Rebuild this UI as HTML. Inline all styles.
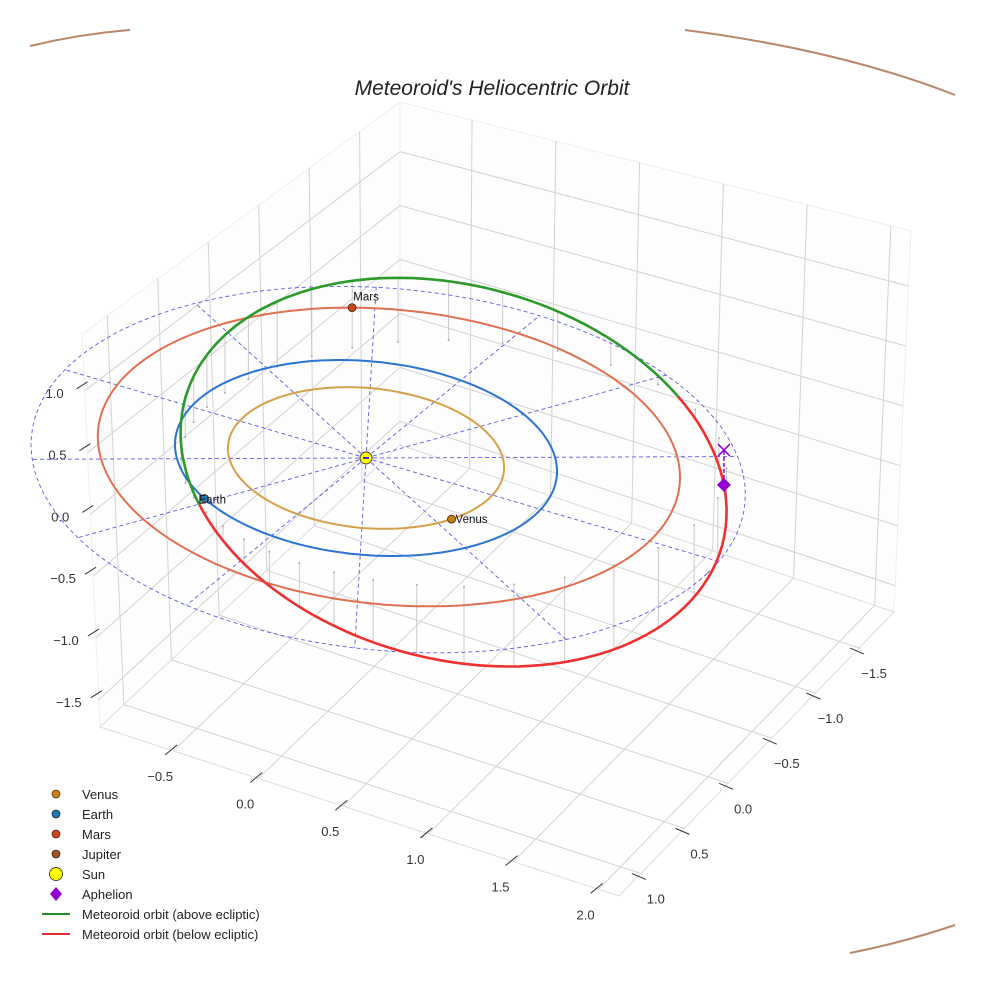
<!DOCTYPE html>
<html><head><meta charset="utf-8"><style>
html,body{margin:0;padding:0;background:#fff;}
svg{display:block;font-family:"Liberation Sans",sans-serif;}
</style></head><body>
<svg id="chart" width="984" height="984" viewBox="0 0 984 984" xmlns="http://www.w3.org/2000/svg">
<rect width="984" height="984" fill="#fff"/>
<g fill="none" stroke="#b9876a" stroke-width="2">
<path d="M30,46 Q80,34 130,30"/>
<path d="M685,30 Q840,50 955,95"/>
<path d="M850,953 Q905,942 955,925"/>
</g>
<g id="panes"></g>
<g id="marks"></g>
<g id="ticks"></g>
<text x="492" y="95" text-anchor="middle" font-size="21" font-style="italic" fill="#222">Meteoroid's Heliocentric Orbit</text>
<g id="legend" font-size="13" fill="#222">
<g><circle cx="56" cy="794" r="4" fill="#c87f1a" stroke="#5a3a10" stroke-width="0.8"/><text x="82" y="799">Venus</text></g>
<g><circle cx="56" cy="814" r="4" fill="#1f77b4" stroke="#123" stroke-width="0.8"/><text x="82" y="819">Earth</text></g>
<g><circle cx="56" cy="834" r="4" fill="#c8441a" stroke="#521" stroke-width="0.8"/><text x="82" y="839">Mars</text></g>
<g><circle cx="56" cy="854" r="4" fill="#a0522d" stroke="#421" stroke-width="0.8"/><text x="82" y="859">Jupiter</text></g>
<g><circle cx="56" cy="874" r="6.5" fill="#ffff00" stroke="#222" stroke-width="0.8"/><text x="82" y="879">Sun</text></g>
<g><path d="M56,887 L62,894 L56,901 L50,894 Z" fill="#9400d3"/><text x="82" y="899">Aphelion</text></g>
<g><line x1="42" y1="914" x2="70" y2="914" stroke="#228b22" stroke-width="2"/><text x="82" y="919">Meteoroid orbit (above ecliptic)</text></g>
<g><line x1="42" y1="934" x2="70" y2="934" stroke="#e8282a" stroke-width="2"/><text x="82" y="939">Meteoroid orbit (below ecliptic)</text></g>
</g>
</svg>
<script>
// ---- data ----
const xTicks = [-0.5, 0.0, 0.5, 1.0, 1.5, 2.0];
const yTicks = [1.0, 0.5, 0.0, -0.5, -1.0, -1.5];
const zTicks = [-1.5, -1.0, -0.5, 0.0, 0.5, 1.0];
const planetNames = ["Venus", "Earth", "Mars"];
const planetRadii = [0.723, 1.0, 1.524];
const planetAngles = [-25, -121, 124];
const planetColors = ["#d4a04a", "#2b74d2", "#e07050"];
const planetMarkerColors = ["#c87f1a", "#1f77b4", "#c8441a"];
const marsCenter = [0.095, 0.078];
const spokeAngles = [115, 148, 183, 215, 241, 267, 295, 328, 3, 35, 61, 87];
const refRadius = [1.87];
const refCenter = [0.15, -0.04];
const orbitElements = [1.47, 0.335, 27, 57, 161]; // a, e, inclination, node angle, nu offset
const orbitOffset = [0.033, -0.10];

// ---- axis ranges ----
const xRange = [-0.93, 2.12], yRange = [1.25, -1.9], zRange = [-1.72, 1.46];
const SVGNS = "http://www.w3.org/2000/svg";
function el(tag, attrs, parent) {
  const e = document.createElementNS(SVGNS, tag);
  for (const k in attrs) e.setAttribute(k, attrs[k]);
  parent.appendChild(e);
  return e;
}
const panes = document.getElementById('panes');
const marks = document.getElementById('marks');
const ticksG = document.getElementById('ticks');
const lerp = (a, b, t) => [a[0] + (b[0] - a[0]) * t, a[1] + (b[1] - a[1]) * t];
const tx = v => (v - xRange[0]) / (xRange[1] - xRange[0]);
const ty = v => (v - yRange[0]) / (yRange[1] - yRange[0]);
const tz = v => (v - zRange[0]) / (zRange[1] - zRange[0]);
const L = [100, 727], F = [619, 896], R = [894, 612], B = [400, 445];
const TL = [82, 334], TB = [400, 102], TR = [911, 231];

let p = el('polygon', {points: [L, B, TB, TL].map(q => q.join(',')).join(' '), fill: '#fdfdfd', stroke: '#eee'}, panes);


p = el('polygon', {points: [B, R, TR, TB].map(q => q.join(',')).join(' '), fill: '#fdfdfd', stroke: '#eee'}, panes);


p = el('polygon', {points: [L, F, R, B].map(q => q.join(',')).join(' '), fill: '#fefefe', stroke: '#ddd'}, panes);


function gl(a, b, name) {
  const l = el('line', {x1: a[0], y1: a[1], x2: b[0], y2: b[1], stroke: '#d2d2d2', 'stroke-width': 1}, panes);
  
  
}
yTicks.forEach(v => { const s = ty(v);
  gl(lerp(L, B, s), lerp(TL, TB, s), 'left-wall-gridline');
  gl(lerp(L, B, s), lerp(F, R, s), 'floor-gridline-y'); });
xTicks.forEach(v => { const t = tx(v);
  gl(lerp(B, R, t), lerp(TB, TR, t), 'right-wall-gridline');
  gl(lerp(L, F, t), lerp(B, R, t), 'floor-gridline-x'); });
zTicks.forEach(v => { const u = tz(v);
  gl(lerp(L, TL, u), lerp(B, TB, u), 'left-wall-gridline-z');
  gl(lerp(B, TB, u), lerp(R, TR, u), 'right-wall-gridline-z'); });

function tick(a, b, lp, txt, name) {
  const l = el('line', {x1: a[0], y1: a[1], x2: b[0], y2: b[1], stroke: '#333', 'stroke-width': 1}, ticksG);
  
  
  const t = el('text', {x: lp[0], y: lp[1], 'text-anchor': 'middle', 'font-size': 13, fill: '#333'}, ticksG);
  t.textContent = txt.replace('-', '\u2212');
  
  
}
xTicks.forEach(v => { const q = lerp(L, F, tx(v));
  tick([q[0] - 8, q[1] + 4], [q[0] + 4, q[1] - 6], [q[0] - 13, q[1] + 30], v.toFixed(1), 'x-tick'); });
yTicks.forEach(v => { const q = lerp(F, R, ty(v));
  tick([q[0] - 9, q[1]], [q[0] + 5, q[1] + 6], [q[0] + 15, q[1] + 30], v.toFixed(1), 'y-tick'); });
zTicks.forEach(v => { const q = lerp(L, TL, tz(v));
  tick([q[0] - 8, q[1] - 2], [q[0] + 3, q[1] - 9], [q[0] - 30, q[1] + 7], v.toFixed(1), 'z-tick'); });

const P = (x, y, z) => [366 + 170.6 * x + 85.9 * y, 458 + 55.6 * x - 80.7 * y - 120 * z];
const rad = d => d * Math.PI / 180;
function pathFrom(pts) { return pts.map((q, i) => (i ? 'L' : 'M') + q[0].toFixed(1) + ',' + q[1].toFixed(1)).join(' '); }

const [oa, oe, oi, oN, oNu] = orbitElements;
function orb(uDeg) {
  const nu = rad(uDeg + oNu), u = rad(uDeg), i = rad(oi), N = rad(oN);
  const r = oa * (1 - oe * oe) / (1 + oe * Math.cos(nu));
  const n = [Math.cos(N), Math.sin(N), 0];
  const m = [Math.cos(i) * Math.cos(N - Math.PI / 2), Math.cos(i) * Math.sin(N - Math.PI / 2), -Math.sin(i)];
  const v = [0, 1, 2].map(k => r * (Math.cos(u) * n[k] + Math.sin(u) * m[k]));
  v[0] += orbitOffset[0]; v[1] += orbitOffset[1];
  return v;
}
for (let u = 5; u < 360; u += 10) {
  const q = orb(u), a = P(q[0], q[1], q[2]), b = P(q[0], q[1], 0);
  const s = el('line', {x1: a[0], y1: a[1], x2: b[0], y2: b[1], stroke: '#c4c4c4', 'stroke-width': 0.9}, marks);
  
  
  const d = el('circle', {cx: b[0], cy: b[1], r: 1, fill: '#aaa'}, marks);
  
  
}
const Rr = refRadius[0], cX = refCenter[0], cY = refCenter[1];
const circ = [];
for (let a = 0; a <= 360; a += 3) circ.push(P(cX + Rr * Math.cos(rad(a)), cY + Rr * Math.sin(rad(a)), 0));
let c = el('path', {d: pathFrom(circ), fill: 'none', stroke: '#5a5ae6', 'stroke-width': 0.9, 'stroke-dasharray': '4 3'}, marks);


spokeAngles.forEach(ang => {
  const dx = Math.cos(rad(ang)), dy = Math.sin(rad(ang));
  const bq = -(dx * cX + dy * cY), cc = cX * cX + cY * cY - Rr * Rr;
  const t = -bq + Math.sqrt(bq * bq - cc);
  const a = P(0, 0, 0), b = P(t * dx, t * dy, 0);
  const s = el('line', {x1: a[0], y1: a[1], x2: b[0], y2: b[1], stroke: '#5a5ae6', 'stroke-width': 0.9, 'stroke-dasharray': '4 3'}, marks);
  
  
});
planetRadii.forEach((r, i) => {
  const cx = i === 2 ? marsCenter[0] : 0, cy = i === 2 ? marsCenter[1] : 0;
  const pts = [];
  for (let a = 0; a <= 360; a += 2) pts.push(P(cx + r * Math.cos(rad(a)), cy + r * Math.sin(rad(a)), 0));
  const o = el('path', {d: pathFrom(pts), fill: 'none', stroke: planetColors[i], 'stroke-width': 2}, marks);
  
  
});
const red = [], green = [];
for (let u = 0; u <= 180; u += 2) { const q = orb(u); red.push(P(q[0], q[1], q[2])); }
for (let u = 180; u <= 360; u += 2) { const q = orb(u); green.push(P(q[0], q[1], q[2])); }
let o = el('path', {d: pathFrom(red), fill: 'none', stroke: '#ee3030', 'stroke-width': 2.6}, marks);


o = el('path', {d: pathFrom(green), fill: 'none', stroke: '#2a9a2a', 'stroke-width': 2.6}, marks);


const uAph = 180 - oNu;
const qa = orb(uAph), ap = P(qa[0], qa[1], qa[2]), apx = P(qa[0], qa[1], 0);
let ln = el('line', {x1: ap[0], y1: ap[1], x2: apx[0], y2: apx[1], stroke: '#9400d3', 'stroke-width': 1.5, 'stroke-dasharray': '4 2'}, marks);


let xm = el('path', {d: `M${apx[0]-6},${apx[1]-6} L${apx[0]+6},${apx[1]+6} M${apx[0]+6},${apx[1]-6} L${apx[0]-6},${apx[1]+6}`, stroke: '#9400d3', 'stroke-width': 1.5, fill: 'none'}, marks);


let dm = el('path', {d: `M${ap[0]},${ap[1]-7} L${ap[0]+7},${ap[1]} L${ap[0]},${ap[1]+7} L${ap[0]-7},${ap[1]} Z`, fill: '#9400d3'}, marks);


planetRadii.forEach((r, i) => {
  const cx = i === 2 ? marsCenter[0] : 0, cy = i === 2 ? marsCenter[1] : 0;
  const q = P(cx + r * Math.cos(rad(planetAngles[i])), cy + r * Math.sin(rad(planetAngles[i])), 0);
  const m = el('circle', {cx: q[0], cy: q[1], r: 4, fill: planetMarkerColors[i], stroke: '#3a2a10', 'stroke-width': 0.8}, marks);
  
  
  let lx = q[0] + 4, ly = q[1] + 4, anchor = 'start';
  if (i === 1) { lx = q[0] - 6; ly = q[1] + 5; }
  if (i === 2) { lx = q[0] + 14; ly = q[1] - 7; anchor = 'middle'; }
  const t = el('text', {x: lx, y: ly, 'font-size': 11.5, fill: '#111', 'text-anchor': anchor}, marks);
  t.textContent = planetNames[i];
  
  
});
const sp = P(0, 0, 0);
let sun = el('circle', {cx: sp[0], cy: sp[1], r: 6, fill: '#ffff00', stroke: '#333', 'stroke-width': 0.9}, marks);


let sd = el('line', {x1: sp[0] - 3, y1: sp[1], x2: sp[0] + 3, y2: sp[1], stroke: '#3a3ad0', 'stroke-width': 2}, marks);


</script>
</body></html>
